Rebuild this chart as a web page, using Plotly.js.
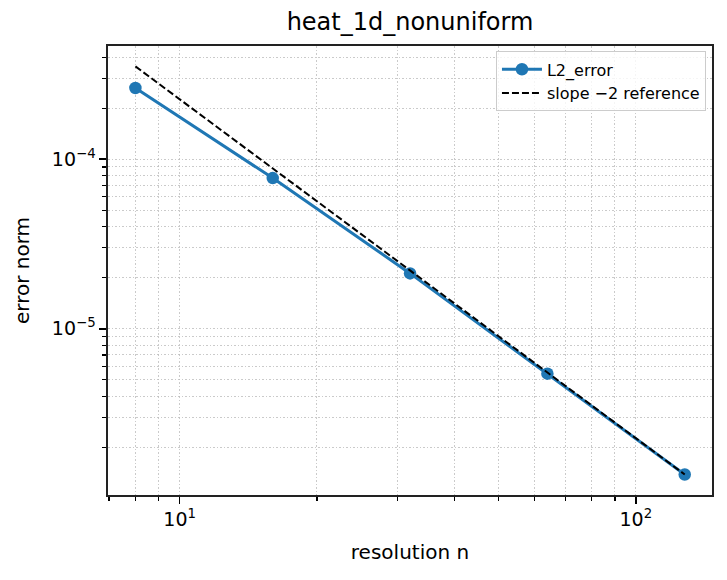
<!DOCTYPE html>
<html>
<head>
<meta charset="utf-8">
<script src="https://cdn.plot.ly/plotly-3.0.1.min.js"></script>
<style>
  html, body { margin: 0; padding: 0; background: #fff; }
  #plot1 { width: 727px; height: 580px; }
</style>
</head>
<body>
<div id="plot1"></div>
<script>
  // values
  var resolution = [8, 16, 32, 64, 128];
  var l2Error = [2.63e-4, 7.74e-5, 2.12e-5, 5.43e-6, 1.38e-6];
  var slopeRef = [3.53e-4, 8.83e-5, 2.21e-5, 5.52e-6, 1.38e-6];

  var xMajor = [10, 100];
  var xMajorText = ['10<sup>1</sup>', '10<sup>2</sup>'];
  var xMinor = [7, 8, 9, 20, 30, 40, 50, 60, 70, 80, 90];
  var yMajor = [1e-5, 1e-4];
  var yMajorText = ['10<sup>\u22125</sup>', '10<sup>\u22124</sup>'];
  var yMinor = [2e-6, 3e-6, 4e-6, 5e-6, 6e-6, 7e-6, 8e-6, 9e-6,
                2e-5, 3e-5, 4e-5, 5e-5, 6e-5, 7e-5, 8e-5, 9e-5,
                2e-4, 3e-4, 4e-4];

  var errTrace = {
    x: resolution,
    y: l2Error,
    name: 'L2_error',
    type: 'scatter',
    mode: 'lines+markers',
    line: {color: '#1f77b4', width: 3},
    marker: {color: '#1f77b4', size: 12.5}
  };

  var refTrace = {
    x: resolution,
    y: slopeRef,
    name: 'slope \u22122 reference',
    type: 'scatter',
    mode: 'lines',
    line: {color: '#000000', width: 2, dash: '7px,3px'}
  };

  var gridStyle = {color: '#bdbdbd', width: 0.8, dash: '1.5px,2px'};

  var layout = {
    width: 727,
    height: 580,
    margin: {l: 108, r: 15, t: 46, b: 85},
    paper_bgcolor: '#ffffff',
    plot_bgcolor: '#ffffff',
    font: {family: 'DejaVu Sans, sans-serif', color: '#000000', size: 19},
    showlegend: true,
    title: {
      text: 'heat_1d_nonuniform',
      font: {size: 24},
      xref: 'paper', x: 0.5, xanchor: 'center',
      yref: 'container', y: 0.962, yanchor: 'middle'
    },
    xaxis: {
      type: 'log',
      range: [0.843, 2.167],
      tickmode: 'array',
      tickvals: xMajor,
      ticktext: xMajorText,
      ticks: 'outside', ticklen: 7, tickwidth: 1.6, tickcolor: '#000',
      showline: true, linecolor: '#222', linewidth: 1.6, mirror: true,
      showgrid: true, gridcolor: gridStyle.color, gridwidth: gridStyle.width, griddash: gridStyle.dash,
      zeroline: false,
      minor: {
        tickmode: 'array', tickvals: xMinor,
        ticks: 'outside', ticklen: 4, tickwidth: 1.2, tickcolor: '#000',
        showgrid: true, gridcolor: gridStyle.color, gridwidth: gridStyle.width, griddash: gridStyle.dash
      },
      title: {text: 'resolution n', font: {size: 20}, standoff: 15}
    },
    yaxis: {
      type: 'log',
      range: [-5.981, -3.332],
      tickmode: 'array',
      tickvals: yMajor,
      ticktext: yMajorText,
      ticks: 'outside', ticklen: 7, tickwidth: 1.6, tickcolor: '#000',
      showline: true, linecolor: '#222', linewidth: 1.6, mirror: true,
      showgrid: true, gridcolor: gridStyle.color, gridwidth: gridStyle.width, griddash: gridStyle.dash,
      zeroline: false,
      minor: {
        tickmode: 'array', tickvals: yMinor,
        ticks: 'outside', ticklen: 4, tickwidth: 1.2, tickcolor: '#000',
        showgrid: true, gridcolor: gridStyle.color, gridwidth: gridStyle.width, griddash: gridStyle.dash
      },
      title: {text: 'error norm', font: {size: 20}, standoff: 17}
    },
    legend: {
      x: 0.99, xanchor: 'right',
      y: 0.988, yanchor: 'top',
      bgcolor: 'rgba(255,255,255,0.8)',
      bordercolor: '#cccccc',
      borderwidth: 1,
      itemwidth: 40,
      tracegroupgap: 0,
      font: {size: 16}
    }
  };

  Plotly.newPlot('plot1', [errTrace, refTrace], layout, {displayModeBar: false, staticPlot: true});
</script>
</body>
</html>
